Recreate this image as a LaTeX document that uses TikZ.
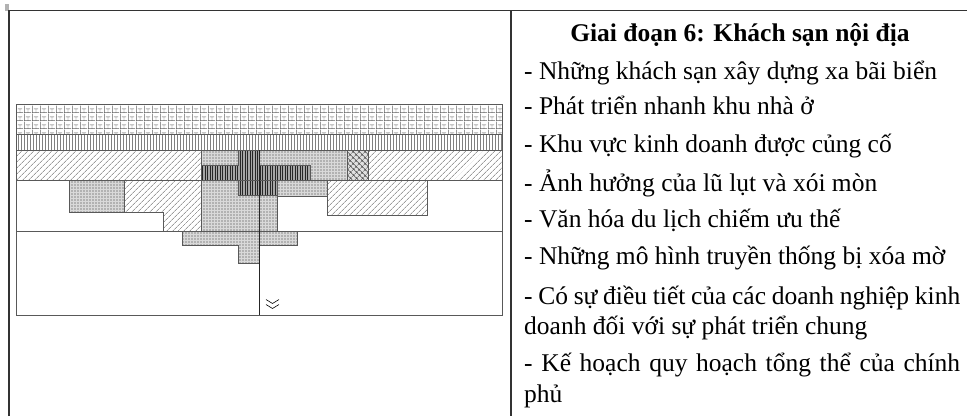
\documentclass[tikz,border=0pt]{standalone}
\usepackage{fontspec}
\setmainfont{Liberation Serif}
\usetikzlibrary{patterns,patterns.meta}
\tikzdeclarepattern{
  name=weave,
  type=uncolored,
  bounding box={(0pt,0pt) and (8pt,8pt)},
  tile size={(8pt,8pt)},
  code={
    \draw[line width=0.5pt] (0pt,0.5pt) -- (8pt,0.5pt)
      (0.5pt,0pt) -- (0.5pt,8pt)
      (4.5pt,0pt) -- (4.5pt,4.5pt)
      (2pt,4.5pt) -- (7pt,4.5pt);
  }
}
\begin{document}
\begin{tikzpicture}[x=1pt,y=-1pt,
  frame/.style={line width=1.4pt, draw=black!80},
  zone/.style={draw=black!65, line width=0.7pt},
  zweave/.style={zone, pattern=weave, pattern color=black!62},
  zvl/.style={zone, pattern={Lines[angle=90,distance=3pt,line width=0.5pt]}, pattern color=black!50},
  zdiag/.style={zone, pattern={Lines[angle=45,distance=4pt,line width=0.5pt]}, pattern color=black!60},
  zdots/.style={zone, preaction={fill=black!15}, pattern={Dots[distance=3pt,radius=0.6pt]}, pattern color=black!80},
  zdark/.style={zone, preaction={fill=black!35}, pattern={Lines[angle=90,distance=2.5pt,line width=0.7pt]}, pattern color=black!85},
  zcross/.style={zone, preaction={fill=black!12}, pattern={Hatch[angle=45,distance=4pt,line width=0.5pt]}, pattern color=black!70},
  item/.style={anchor=base west, inner sep=0pt, font=\fontsize{25.5}{30}\selectfont},
  ttl/.style={anchor=base, inner sep=0pt, font=\fontsize{25.5}{30}\selectfont\bfseries}
]
\useasboundingbox (0,0) rectangle (967,416);
% table frame
\fill[black!30] (5,4) rectangle (9,11);
\draw[frame] (9,416) -- (9,10.5) -- (967,10.5);
\draw[frame] (511,10.5) -- (511,416);

% diagram layers
\draw[zweave] (16,104) rectangle (502,134);
\draw[zvl] (16,134) rectangle (502,150);
\draw[zdiag] (16,150) rectangle (201,180);
\draw[zdots] (201,150) -- (347,150) -- (347,180) -- (327,180) -- (327,196) -- (277,196)
  -- (277,231) -- (297,231) -- (297,245) -- (259,245) -- (259,263) -- (238,263)
  -- (238,245) -- (182,245) -- (182,231) -- (201,231) -- cycle;
\draw[zdark] (238,150) -- (259,150) -- (259,165) -- (310,165) -- (310,180) -- (277,180)
  -- (277,195) -- (238,195) -- (238,180) -- (201,180) -- (201,165) -- (238,165) -- cycle;
\draw[zcross] (347,150) rectangle (368,180);
\draw[zdiag] (368,150) rectangle (502,180);
\draw[zdots] (69,180) rectangle (124,212);
\draw[zdiag] (124,180) -- (201,180) -- (201,231) -- (163,231) -- (163,212) -- (124,212) -- cycle;
\draw[zdiag] (327,180) rectangle (427,215);
\draw[zone] (16,180) -- (502,180);
\draw[zone] (16,231) -- (502,231);
\draw[zone, line width=1pt, draw=black!85] (259,150) -- (259,315);
\draw[zone, line width=0.9pt] (16,104) rectangle (502,315);
% double chevron
\draw[line width=0.6pt] (266,299.5) -- (272.5,303.5) -- (279,299.5)
  (266,304.5) -- (272.5,308.5) -- (279,304.5);

% text
\node[ttl] (t0) at (740,41) {Giai đoạn 6: Khách sạn nội địa};
\node[item] (t1) at (524,79) {- Những khách sạn xây dựng xa bãi biển};
\node[item] (t2) at (524,114) {- Phát triển nhanh khu nhà ở};
\node[item] (t3) at (524,152) {- Khu vực kinh doanh được củng cố};
\node[item] (t4) at (524,191) {- Ảnh hưởng của lũ lụt và xói mòn};
\node[item] (t5) at (524,227) {- Văn hóa du lịch chiếm ưu thế};
\node[item] (t6) at (524,264) {- Những mô hình truyền thống bị xóa mờ};
\node[item] (t7) at (524,304) {\makebox[436pt][s]{- Có sự điều tiết của các doanh nghiệp kinh}};
\node[item] (t7b) at (524,334) {doanh đối với sự phát triển chung};
\node[item] (t8) at (524,371) {\makebox[436pt][s]{- Kế hoạch quy hoạch tổng thể của chính}};
\node[item] (t8b) at (524,402) {phủ};
\end{tikzpicture}
\end{document}
